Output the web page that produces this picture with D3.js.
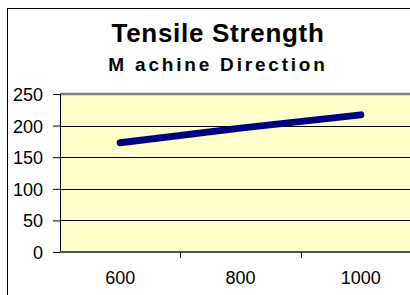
<!DOCTYPE html>
<html>
<head>
<meta charset="utf-8">
<script src="https://cdn.jsdelivr.net/npm/d3@7"></script>
<style>
  html, body { margin: 0; padding: 0; background: #fff; }
  svg { display: block; font-family: Arial, "Liberation Sans", sans-serif; }
</style>
</head>
<body>
<div id="chart"></div>
<script>
// chart values
const categories = ["600", "800", "1000"];
const strength = [173, 196, 217];
const yTicks = [0, 50, 100, 150, 200, 250];
const titleText = "Tensile Strength";
const subtitleText = "M achine Direction";

const width = 410;
const height = 295;
const plot = { left: 60, top: 94, right: 421, bottom: 252 };

const svg = d3.select("#chart").append("svg")
    .attr("width", width)
    .attr("height", height);

// outer chart border (runs off the right/bottom of the window)
svg.append("rect")
    .attr("x", 7.5).attr("y", 8.5)
    .attr("width", 500).attr("height", 400)
    .attr("fill", "#fff")
    .attr("stroke", "#000")
    .attr("stroke-width", 1);

const x = d3.scaleBand()
    .domain(categories)
    .range([plot.left, plot.right]);
const y = d3.scaleLinear()
    .domain([0, 250])
    .range([plot.bottom, plot.top]);

// plot area
svg.append("rect")
    .attr("x", plot.left).attr("y", plot.top)
    .attr("width", plot.right - plot.left)
    .attr("height", plot.bottom - plot.top)
    .attr("fill", "#ffffcc");

// gridlines
svg.append("g")
    .selectAll("line")
    .data(yTicks.filter(d => d > 0 && d < 250))
    .join("line")
    .attr("x1", plot.left).attr("x2", plot.right)
    .attr("y1", d => Math.round(y(d)) + 0.5)
    .attr("y2", d => Math.round(y(d)) + 0.5)
    .attr("stroke", "#000")
    .attr("stroke-width", 1);

// top border of plot area
svg.append("line")
    .attr("x1", plot.left).attr("x2", plot.right)
    .attr("y1", y(250)).attr("y2", y(250))
    .attr("stroke", "#808080")
    .attr("stroke-width", 2.5);

// y axis
const yAxis = svg.append("g")
    .attr("transform", "translate(" + plot.left + ",0)")
    .call(d3.axisLeft(y).tickValues(yTicks).tickSize(7).tickPadding(10));
yAxis.select(".domain").attr("stroke", "#000");
yAxis.selectAll(".tick line").attr("stroke", "#000");
yAxis.selectAll(".tick text")
    .attr("font-size", 18)
    .attr("font-family", "Arial, 'Liberation Sans', sans-serif")
    .attr("fill", "#000")
    .attr("dy", "0.36em");

// x axis: ticks between categories
const xAxis = svg.append("g")
    .attr("transform", "translate(0," + plot.bottom + ")");
xAxis.append("line")
    .attr("x1", plot.left).attr("x2", plot.right)
    .attr("stroke", "#555")
    .attr("stroke-width", 2);
xAxis.selectAll(".xtick")
    .data(categories)
    .join("line")
    .attr("class", "xtick")
    .attr("x1", d => Math.round(x(d) + x.bandwidth()) + 0.5)
    .attr("x2", d => Math.round(x(d) + x.bandwidth()) + 0.5)
    .attr("y1", 0).attr("y2", 6)
    .attr("stroke", "#000");
xAxis.selectAll(".xlabel")
    .data(categories)
    .join("text")
    .attr("class", "xlabel")
    .attr("x", d => x(d) + x.bandwidth() / 2)
    .attr("y", 32)
    .attr("text-anchor", "middle")
    .attr("font-size", 18)
    .attr("fill", "#000")
    .text(d => d);

// data line
const line = d3.line()
    .x((d, i) => x(categories[i]) + x.bandwidth() / 2)
    .y(d => y(d));
svg.append("path")
    .datum(strength)
    .attr("d", line)
    .attr("fill", "none")
    .attr("stroke", "#000080")
    .attr("stroke-width", 7)
    .attr("stroke-linecap", "round")
    .attr("stroke-linejoin", "round");

// titles
svg.append("text")
    .attr("x", 218).attr("y", 42)
    .attr("text-anchor", "middle")
    .attr("font-size", 26)
    .attr("font-weight", "bold")
    .attr("letter-spacing", 0.7)
    .text(titleText);
svg.append("text")
    .attr("x", 218).attr("y", 71)
    .attr("text-anchor", "middle")
    .attr("font-size", 19)
    .attr("font-weight", "bold")
    .attr("letter-spacing", 2.8)
    .text(subtitleText);
</script>
</body>
</html>
